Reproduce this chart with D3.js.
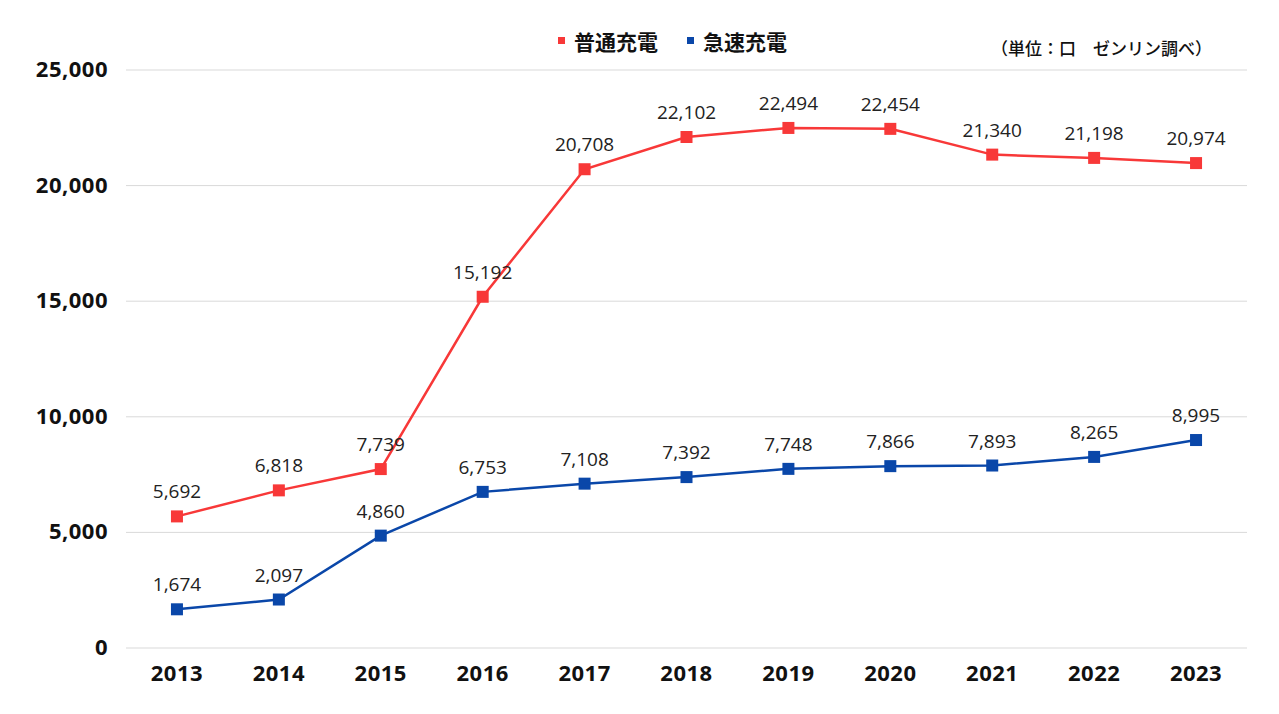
<!DOCTYPE html>
<html>
<head>
<meta charset="utf-8">
<script src="https://cdn.jsdelivr.net/npm/d3@7"></script>
<style>
  body { margin: 0; background: #fff; }
  svg { display: block; }
</style>
</head>
<body>
<svg id="chart"></svg>
<script>
// données
const years = ["2013", "2014", "2015", "2016", "2017", "2018", "2019", "2020", "2021", "2022", "2023"];
const normalCharge = [5692, 6818, 7739, 15192, 20708, 22102, 22494, 22454, 21340, 21198, 20974];
const fastCharge = [1674, 2097, 4860, 6753, 7108, 7392, 7748, 7866, 7893, 8265, 8995];
const yTicks = [0, 5000, 10000, 15000, 20000, 25000];
const seriesNames = ["普通充電", "急速充電"];
const unitNote = "（単位：口　ゼンリン調べ）";

const width = 1279, height = 714;
const numFont = "'Open Sans', 'Noto Sans', sans-serif";
const jpFont = "'Noto Sans CJK JP', sans-serif";
const colors = ["#f83838", "#0a47a9"];

const svg = d3.select("#chart").attr("width", width).attr("height", height);

const x = d3.scaleBand().domain(years).range([126, 1247]);
const y = d3.scaleLinear().domain([0, 25000]).range([648, 70]);
const cx = d => x(d) + x.bandwidth() / 2;

// grille
svg.append("g").selectAll("line").data(yTicks).enter()
    .append("line")
    .attr("x1", 126).attr("x2", 1247)
    .attr("y1", d => y(d)).attr("y2", d => y(d))
    .attr("stroke", "#d9d9d9").attr("stroke-width", 1);

// axe Y
svg.append("g").selectAll("text").data(yTicks).enter()
    .append("text")
    .attr("x", 108).attr("y", d => y(d) + 7)
    .attr("text-anchor", "end")
    .attr("font-family", numFont).attr("font-weight", "bold").attr("font-size", 22)
    .attr("letter-spacing", 0.5)
    .attr("fill", "#111")
    .text(d => d3.format(",")(d));

// axe X
svg.append("g").selectAll("text").data(years).enter()
    .append("text")
    .attr("x", cx).attr("y", 681)
    .attr("text-anchor", "middle")
    .attr("font-family", numFont).attr("font-weight", "bold").attr("font-size", 22)
    .attr("letter-spacing", 0.5)
    .attr("fill", "#111")
    .text(d => d);

// séries
const line = d3.line()
    .x((d, i) => cx(years[i]))
    .y(d => y(d));

[normalCharge, fastCharge].forEach((values, k) => {
    const g = svg.append("g");
    g.append("path").datum(values)
        .attr("d", line)
        .attr("fill", "none")
        .attr("stroke", colors[k]).attr("stroke-width", 2.5);
    g.selectAll("rect").data(values).enter()
        .append("rect")
        .attr("x", (d, i) => cx(years[i]) - 6)
        .attr("y", d => y(d) - 6)
        .attr("width", 12).attr("height", 12)
        .attr("fill", colors[k]);
    g.selectAll("text").data(values).enter()
        .append("text")
        .attr("x", (d, i) => cx(years[i]))
        .attr("y", d => y(d) - 18)
        .attr("text-anchor", "middle")
        .attr("font-family", numFont).attr("font-size", 19)
        .attr("fill", "#222")
        .text(d => d3.format(",")(d));
});

// légende
const legendX = [558, 687];
seriesNames.forEach((name, k) => {
    svg.append("rect")
        .attr("x", legendX[k]).attr("y", 37)
        .attr("width", 7).attr("height", 7)
        .attr("fill", colors[k]);
    svg.append("text")
        .attr("x", legendX[k] + 16).attr("y", 50)
        .attr("font-family", jpFont).attr("font-weight", "bold").attr("font-size", 21)
        .attr("fill", "#111")
        .text(name);
});

// unité
svg.append("text")
    .attr("x", 1212).attr("y", 55)
    .attr("text-anchor", "end")
    .attr("font-family", jpFont).attr("font-weight", 500).attr("font-size", 17)
    .attr("fill", "#111")
    .text(unitNote);
</script>
</body>
</html>
